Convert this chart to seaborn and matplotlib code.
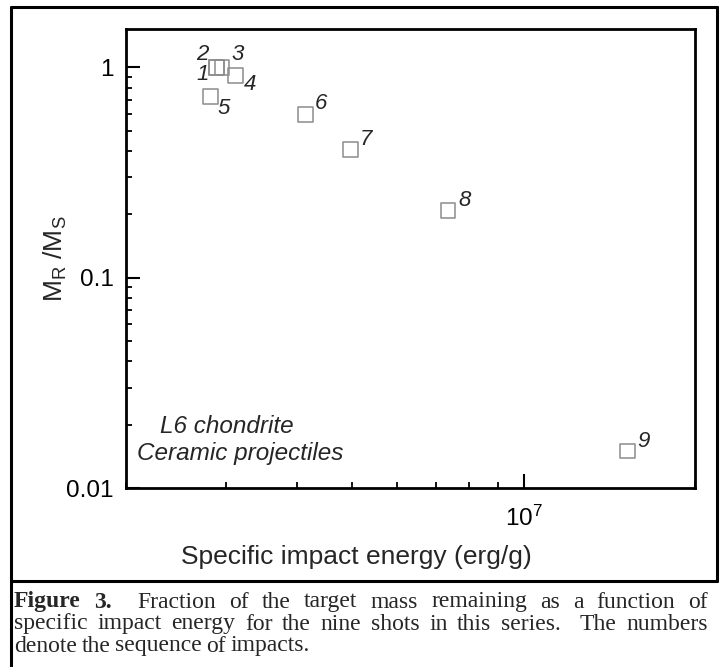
import numpy as np
import pandas as pd
import seaborn as sns
import matplotlib.pyplot as plt
from matplotlib.lines import Line2D
from matplotlib.ticker import FixedLocator, LogLocator, NullFormatter, FuncFormatter

# data
shots = ['1', '2', '3', '4', '5', '6', '7', '8', '9']
energy = [2.88e6, 2.88e6, 2.95e6, 3.12e6, 2.82e6, 4.13e6, 4.97e6, 7.36e6, 1.52e7]
mass_frac = [1.0, 1.0, 1.0, 0.916, 0.727, 0.597, 0.407, 0.208, 0.015]
y_ticks = [0.01, 0.1, 1]
y_ticklabels = ['0.01', '0.1', '1']

df = pd.DataFrame({'shot': shots, 'energy': energy, 'frac': mass_frac})

# label offsets (points) for shot numbers
offsets = {'1': (-10, -5), '2': (-10, 9), '3': (11, 9), '4': (10, -7),
           '5': (9, -9), '6': (11, 8), '7': (11, 7), '8': (12, 7), '9': (12, 7)}

sns.set_style('ticks')
plt.rcParams['font.family'] = ['Liberation Sans', 'DejaVu Sans']
plt.rcParams['mathtext.default'] = 'regular'

W, H = 720, 667
fig = plt.figure(figsize=(W / 100, H / 100), dpi=100)
ax = fig.add_axes([126 / W, 1 - 488 / H, (695 - 126) / W, (488 - 29) / H])

sns.scatterplot(data=df, x='energy', y='frac', marker='s', s=115, ax=ax,
                legend=False, zorder=3)
pts = ax.collections[0]
pts.set_facecolor('none')
pts.set_edgecolor('0.55')
pts.set_linewidth(1.1)

for _, r in df.iterrows():
    ax.annotate(r['shot'], (r['energy'], r['frac']), xytext=offsets[r['shot']],
                textcoords='offset points', ha='center', va='center',
                fontsize=16, style='italic')

ax.set_xscale('log')
ax.set_yscale('log')
ax.set_xlim(2e6, 2e7)
ax.set_ylim(0.01, 1.52)

ax.yaxis.set_major_locator(FixedLocator(y_ticks))
ax.yaxis.set_major_formatter(FuncFormatter(lambda v, p: y_ticklabels[y_ticks.index(v)] if v in y_ticks else ''))
ax.yaxis.set_minor_locator(LogLocator(base=10, subs=np.arange(2, 10)))
ax.yaxis.set_minor_formatter(NullFormatter())
ax.xaxis.set_minor_locator(LogLocator(base=10, subs=np.arange(2, 10)))
ax.xaxis.set_minor_formatter(NullFormatter())

for s in ax.spines.values():
    s.set_linewidth(2.0)
    s.set_color('black')
ax.tick_params(which='both', direction='in', top=False, right=False,
               colors='black', labelsize=17.5)
ax.tick_params(which='major', length=10, width=1.5, pad=9)
ax.tick_params(axis='x', which='major', pad=13)
ax.tick_params(which='minor', length=4.5, width=1.3)
ax.grid(False)

ax.set_xlabel('Specific impact energy (erg/g)', fontsize=19)
ax.xaxis.set_label_coords(0.405, -0.125)
ax.set_ylabel('M$_R$ /M$_S$', fontsize=19)
ax.yaxis.set_label_coords(-0.1, 0.5)

ax.text(0.06, 0.135, 'L6 chondrite', transform=ax.transAxes, fontsize=17.5,
        style='italic', ha='left', va='center')
ax.text(0.02, 0.075, 'Ceramic projectiles', transform=ax.transAxes, fontsize=17.5,
        style='italic', ha='left', va='center')

# frame around the figure
lk = dict(color='black', linewidth=2.2, transform=fig.transFigure)
fig.add_artist(Line2D([11 / W, 11 / W], [0, 1 - 7 / H], **lk))
fig.add_artist(Line2D([11 / W, 717 / W], [1 - 7 / H, 1 - 7 / H], **lk))
fig.add_artist(Line2D([717 / W, 717 / W], [1 - 7 / H, 1 - 581 / H], **lk))
fig.add_artist(Line2D([11 / W, 717 / W], [1 - 581 / H, 1 - 581 / H], **lk))

# justified caption
caption = [
    ['Figure', '3.', 'Fraction', 'of', 'the', 'target', 'mass', 'remaining', 'as', 'a',
     'function', 'of'],
    ['specific', 'impact', 'energy', 'for', 'the', 'nine', 'shots', 'in', 'this',
     'series.', 'The', 'numbers'],
    ['denote', 'the', 'sequence', 'of', 'impacts.'],
]
cap_y = [602, 624, 646]
x0, x1 = 14, 708
renderer = fig.canvas.get_renderer()
for i, words in enumerate(caption):
    texts = []
    for w in words:
        bold = i == 0 and w in ('Figure', '3.')
        texts.append(fig.text(0, 1 - cap_y[i] / H, w, fontsize=17, va='center',
                              family='Liberation Serif',
                              weight='bold' if bold else 'normal'))
    widths = [t.get_window_extent(renderer).width for t in texts]
    if i < 2:
        weights = [2.0 if w.endswith('.') else 1.0 for w in words[:-1]]
        gap = (x1 - x0 - sum(widths)) / sum(weights)
    else:
        gap = 4.5
        weights = [1.0] * (len(words) - 1)
    x = x0
    for k, (t, w) in enumerate(zip(texts, widths)):
        t.set_x(x / W)
        if k < len(weights):
            x += w + gap * weights[k]

fig.savefig('out.png', dpi=100)
